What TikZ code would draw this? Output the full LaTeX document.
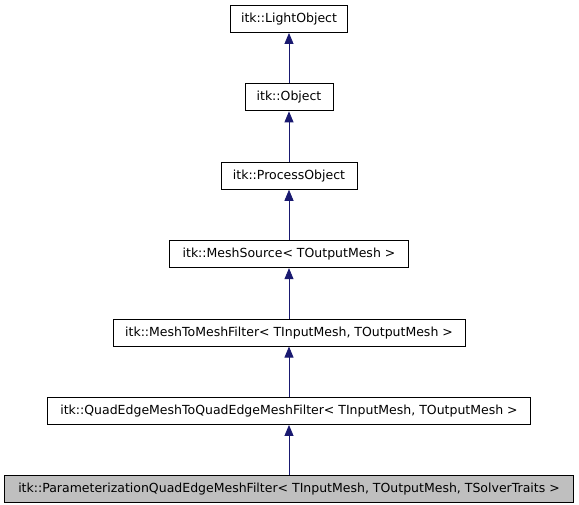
\documentclass[tikz,border=0pt]{standalone}
\usepackage{fontspec}
\setmainfont{DejaVu Sans}
\usetikzlibrary{positioning,arrows.meta}
\tikzset{
	cls/.style={draw=black,fill=white,line width=0.9pt,minimum height=27pt,inner sep=0pt,font=\fontsize{12.5}{15}\selectfont},
	cur/.style={cls,fill=black!25},
	inh/.style={draw=midblue,line width=0.8pt,-{Triangle[length=11pt,width=9pt]}}
}
\definecolor{midblue}{HTML}{191970}
\begin{document}
\begin{tikzpicture}[x=1pt,y=-1pt,node distance=50.5pt]
			\useasboundingbox (0,0) rectangle (579,504);
			\node[cls,minimum width=117pt] (light) at (289,19) {itk::LightObject};
			\node[cls,minimum width=88pt,below=of light] (obj) {itk::Object};
			\node[cls,minimum width=136pt,below=of obj] (proc) {itk::ProcessObject};
			\node[cls,minimum width=239pt,below=of proc] (src) {itk::MeshSource< TOutputMesh >};
			\node[cls,minimum width=352pt,below=of src] (m2m) {itk::MeshToMeshFilter< TInputMesh, TOutputMesh >};
			\node[cls,minimum width=483pt,below=of m2m] (qe2qe) {itk::QuadEdgeMeshToQuadEdgeMeshFilter< TInputMesh, TOutputMesh >};
			\node[cur,minimum width=569pt,below=of qe2qe] (param) {itk::ParameterizationQuadEdgeMeshFilter< TInputMesh, TOutputMesh, TSolverTraits >};
			%arrows go from derived class up to base class
			\foreach \a/\b in {obj/light,proc/obj,src/proc,m2m/src,qe2qe/m2m,param/qe2qe}
			\draw[inh] (\a) -- (\b);
			\end{tikzpicture}
\end{document}
